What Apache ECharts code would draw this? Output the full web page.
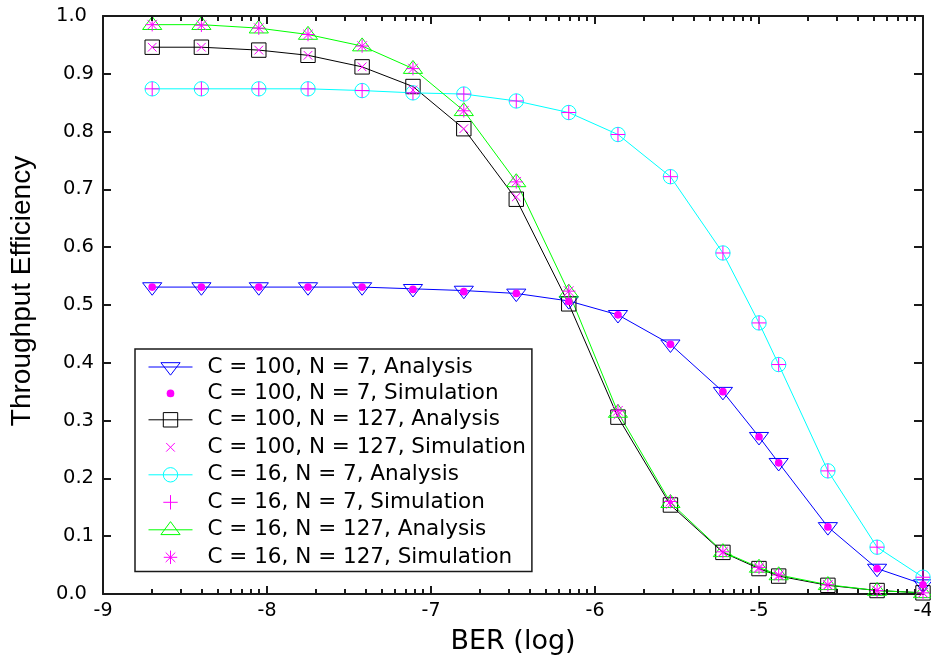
<!DOCTYPE html>
<html>
<head>
<meta charset="utf-8">
<script src="https://cdn.jsdelivr.net/npm/echarts@6/dist/echarts.min.js"></script>
<style>
  html, body { margin: 0; padding: 0; background: #fff; }
  #chart { width: 931px; height: 662px; }
</style>
</head>
<body>
<div id="chart"></div>
<script>
// BER operating points, as log10(BER)
const berExp = [-8.70, -8.40, -8.05, -7.75, -7.42, -7.11, -6.80, -6.48, -6.16,
                -5.86, -5.54, -5.22, -5.00, -4.88, -4.58, -4.28, -4.00];

// Throughput efficiency, analysis and simulation
const c100n7Analysis   = [0.531, 0.531, 0.531, 0.531, 0.531, 0.528, 0.525, 0.520, 0.507,
                          0.483, 0.432, 0.350, 0.272, 0.227, 0.116, 0.044, 0.017];
const c100n7Sim        = [0.531, 0.531, 0.531, 0.531, 0.531, 0.527, 0.523, 0.520, 0.506,
                          0.483, 0.432, 0.350, 0.272, 0.227, 0.116, 0.044, 0.016];
const c100n127Analysis = [0.946, 0.946, 0.941, 0.932, 0.912, 0.878, 0.805, 0.683, 0.502,
                          0.306, 0.154, 0.072, 0.044, 0.031, 0.015, 0.006, 0.002];
const c100n127Sim      = [0.946, 0.946, 0.941, 0.932, 0.912, 0.872, 0.805, 0.687, 0.508,
                          0.310, 0.155, 0.072, 0.044, 0.031, 0.015, 0.006, 0.002];
const c16n7Analysis    = [0.874, 0.874, 0.874, 0.874, 0.871, 0.867, 0.865, 0.853, 0.833,
                          0.795, 0.722, 0.590, 0.469, 0.397, 0.213, 0.081, 0.029];
const c16n7Sim         = [0.874, 0.874, 0.874, 0.874, 0.871, 0.867, 0.865, 0.853, 0.833,
                          0.795, 0.722, 0.590, 0.469, 0.397, 0.213, 0.081, 0.029];
const c16n127Analysis  = [0.985, 0.985, 0.979, 0.968, 0.948, 0.909, 0.836, 0.713, 0.522,
                          0.314, 0.158, 0.073, 0.046, 0.033, 0.016, 0.006, 0.002];
const c16n127Sim       = [0.985, 0.984, 0.979, 0.968, 0.948, 0.909, 0.836, 0.713, 0.524,
                          0.317, 0.160, 0.073, 0.046, 0.033, 0.016, 0.006, 0.002];

const seriesNames = [
  'C = 100, N = 7, Analysis', 'C = 100, N = 7, Simulation',
  'C = 100, N = 127, Analysis', 'C = 100, N = 127, Simulation',
  'C = 16, N = 7, Analysis', 'C = 16, N = 7, Simulation',
  'C = 16, N = 127, Analysis', 'C = 16, N = 127, Simulation'
];

const xTickLabels = ['-9', '-8', '-7', '-6', '-5', '-4'];
const yTickLabels = ['0.0', '0.1', '0.2', '0.3', '0.4', '0.5', '0.6', '0.7', '0.8', '0.9', '1.0'];

// Logarithmic minor tick layout: 2..9 within each decade
const minorDecades = [-9, -8, -7, -6, -5];
const minorMultiples = [2, 3, 4, 5, 6, 7, 8, 9];

// Marker shapes, each drawn inside a 20x20 box so legend and plot share one scale
const SYM = {
  invTri: 'path://M0,0M20,20M0,5.5L20,5.5L10,18.5Z',
  tri:    'path://M0,0M20,20M10,1.5L20,15L0,15Z',
  square: 'path://M0,0M20,20M2.5,2.5L17.5,2.5L17.5,17.5L2.5,17.5Z',
  circle: 'path://M0,0M20,20M17.5,10A7.5,7.5,0,1,1,2.5,10A7.5,7.5,0,1,1,17.5,10Z',
  dot:    'path://M0,0M20,20M14,10A4,4,0,1,1,6,10A4,4,0,1,1,14,10Z',
  cross:  'path://M0,0M20,20M5.5,5.5L14.5,14.5M14.5,5.5L5.5,14.5',
  plus:   'path://M0,0M20,20M10,2.5L10,17.5M2.5,10L17.5,10',
  star:   'path://M0,0M20,20M10,3L10,17M3,10L17,10M5,5L15,15M15,5L5,15'
};
const MAG = '#ff00ff';
const SYM_SIZE = 19.2;

function pairs(ys) {
  return berExp.map((e, i) => [Math.pow(10, e), ys[i]]);
}

function analysis(name, ys, color, symbol) {
  return {
    name, type: 'line', data: pairs(ys),
    symbol, symbolSize: SYM_SIZE, showSymbol: true,
    lineStyle: { color, width: 1 },
    itemStyle: { color: 'transparent', borderColor: color, borderWidth: 1 },
    emphasis: { disabled: true }, z: 2
  };
}

function simulation(name, ys, symbol, filled) {
  return {
    name, type: 'line', data: pairs(ys),
    symbol, symbolSize: SYM_SIZE, showSymbol: true,
    lineStyle: { width: 0, opacity: 0, color: MAG },
    itemStyle: filled
      ? { color: MAG, borderWidth: 0 }
      : { color: 'none', borderColor: MAG, borderWidth: 1 },
    emphasis: { disabled: true }, z: 3
  };
}

// Legend entries: thin line and 1px outline for analysis, marker only for simulation
const legendData = seriesNames.map((name, i) => {
  const isSim = i % 2 === 1;
  return {
    name,
    lineStyle: isSim ? { width: 0, opacity: 0 } : { width: 1 },
    itemStyle: { borderWidth: (i === 1) ? 0 : 1 }
  };
});

const FONT = 'DejaVu Sans';
const FRAME = '#1a1a1a';
const AXIS_LINE = { show: true, onZero: false, lineStyle: { color: FRAME, width: 2 } };
const TICK = { color: FRAME, width: 2 };
const logX = {
  type: 'log', logBase: 10, min: 1e-9, max: 1e-4,
  axisLine: AXIS_LINE,
  axisTick: { show: true, inside: true, length: 8, lineStyle: TICK },
  splitLine: { show: false }
};

const chart = echarts.init(document.getElementById('chart'), null, { renderer: 'canvas' });
chart.setOption({
  animation: false,
  backgroundColor: '#fff',
  grid: { left: 103, right: 8, top: 16, bottom: 68, containLabel: false, outerBoundsMode: 'none' },
  legend: {
    data: legendData,
    orient: 'vertical',
    left: 135, top: 349,
    padding: [7, 6, 2, 13],
    itemWidth: 44, itemHeight: 24, itemGap: 4.4,
    backgroundColor: '#fff',
    borderColor: FRAME, borderWidth: 1.5,
    selectedMode: false,
    textStyle: { fontFamily: FONT, fontSize: 21.5, color: '#000', padding: [0, 0, 0, 10] }
  },
  xAxis: [
    Object.assign({}, logX, {
      position: 'bottom',
      name: 'BER (log)', nameLocation: 'middle', nameGap: 34,
      nameTextStyle: { fontFamily: FONT, fontSize: 27, color: '#000' },
      axisLabel: {
        show: true, margin: 8, fontFamily: FONT, fontSize: 19, color: '#000',
        formatter: v => xTickLabels[Math.round(Math.log10(v)) + 9]
      }
    }),
    Object.assign({}, logX, { position: 'top', axisLabel: { show: false } })
  ],
  yAxis: [
    {
      type: 'value', position: 'left', min: 0, max: 1, interval: 0.1,
      name: 'Throughput Efficiency', nameLocation: 'middle', nameGap: 67,
      nameTextStyle: { fontFamily: 'Liberation Sans', fontSize: 28, color: '#000', padding: [0, 0, 0, 28] },
      axisLine: AXIS_LINE,
      axisTick: { show: true, inside: true, length: 8, lineStyle: TICK },
      splitLine: { show: false },
      axisLabel: {
        margin: 9, fontFamily: FONT, fontSize: 19.5, color: '#000',
        formatter: v => {
          const i = Math.round(v * 10);
          return (i === 0 || i === 10) ? '{e|' + yTickLabels[i] + '}' : yTickLabels[i];
        },
        rich: { e: { fontFamily: FONT, fontSize: 19.5, color: '#000', padding: [0, 7, 0, 0] } }
      }
    },
    {
      type: 'value', position: 'right', min: 0, max: 1, interval: 0.1,
      axisLine: AXIS_LINE,
      axisTick: { show: true, inside: true, length: 9, lineStyle: TICK },
      splitLine: { show: false },
      axisLabel: { show: false }
    }
  ],
  series: [
    analysis(seriesNames[0], c100n7Analysis, '#0000ff', SYM.invTri),
    analysis(seriesNames[2], c100n127Analysis, '#000000', SYM.square),
    analysis(seriesNames[4], c16n7Analysis, '#00ffff', SYM.circle),
    analysis(seriesNames[6], c16n127Analysis, '#00ff00', SYM.tri),
    simulation(seriesNames[1], c100n7Sim, SYM.dot, true),
    simulation(seriesNames[3], c100n127Sim, SYM.cross, false),
    simulation(seriesNames[5], c16n7Sim, SYM.plus, false),
    simulation(seriesNames[7], c16n127Sim, SYM.star, false)
  ]
});

// Short inward log minor ticks along the bottom and top frame edges,
// placed through the axis scale of the chart
const tickEls = [];
minorDecades.forEach(d => minorMultiples.forEach(k => {
  const v = k * Math.pow(10, d);
  const b = chart.convertToPixel({ xAxisIndex: 0, yAxisIndex: 0 }, [v, 0]);
  const t = chart.convertToPixel({ xAxisIndex: 0, yAxisIndex: 0 }, [v, 1]);
  if (!b || !t) return;
  const x = Math.round(b[0]);
  const st = { stroke: FRAME, lineWidth: 2 };
  tickEls.push({ type: 'line', silent: true, z: 10, shape: { x1: x, y1: b[1], x2: x, y2: b[1] - 5 }, style: st });
  tickEls.push({ type: 'line', silent: true, z: 10, shape: { x1: x, y1: t[1], x2: x, y2: t[1] + 5 }, style: st });
}));
chart.setOption({ graphic: { elements: tickEls } });
</script>
</body>
</html>
